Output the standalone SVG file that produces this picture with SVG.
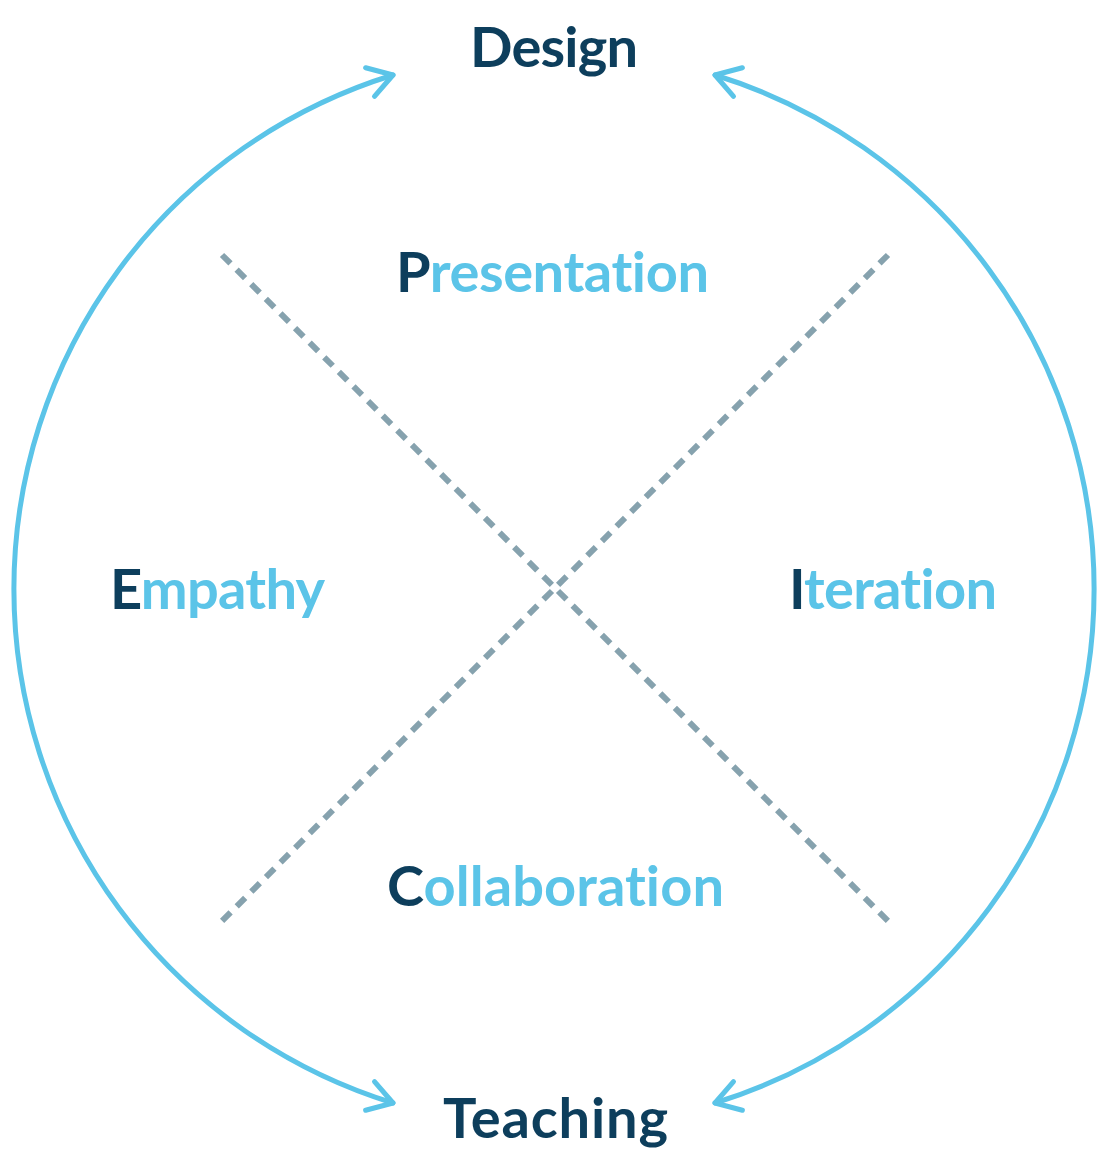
<svg xmlns="http://www.w3.org/2000/svg" width="1112" height="1156" viewBox="0 0 1112 1156">
  <defs>
    <style>
      .lbl { font-family: Lato, "Open Sans", "Liberation Sans", sans-serif; font-weight: 700; font-size: 56px; font-variant-ligatures: none; }
      .dk { fill: #0d3e5c; }
      .lt { fill: #5bc4e8; }
      .arc { fill: none; stroke: #5bc4e8; stroke-width: 5; stroke-linecap: round; }
      .dash { fill: none; stroke: #86a2ae; stroke-width: 6; stroke-dasharray: 12 8.66; }
    </style>
    <marker id="chev" markerUnits="userSpaceOnUse" markerWidth="60" markerHeight="60" refX="0" refY="0" viewBox="-30 -30 60 60" orient="auto-start-reverse" overflow="visible">
      <path d="M -24 -15 L 0 0 L -24 15" fill="none" stroke="#5bc4e8" stroke-width="5" stroke-linecap="round" stroke-linejoin="round"/>
    </marker>
  </defs>
  <rect width="1112" height="1156" fill="#ffffff"/>

  <g id="connectors">
    <path class="arc" d="M 393 75 A 538 538 0 0 0 393 1103" marker-start="url(#chev)" marker-end="url(#chev)"/>
    <path class="arc" d="M 715 75 A 538 538 0 0 1 715 1103" marker-start="url(#chev)" marker-end="url(#chev)"/>
    <line class="dash" x1="222" y1="255" x2="888" y2="921"/>
    <line class="dash" x1="888" y1="255" x2="222" y2="921"/>
  </g>

  <g id="design"><text class="lbl dk" x="470" y="67" textLength="168" lengthAdjust="spacing">Design</text></g>
  <g id="teaching"><text class="lbl dk" x="443" y="1138" textLength="225" lengthAdjust="spacing">Teaching</text></g>
  <g id="presentation"><text class="lbl" x="396" y="292" textLength="313" lengthAdjust="spacing"><tspan class="dk">P</tspan><tspan class="lt">resentation</tspan></text></g>
  <g id="empathy"><text class="lbl" x="110" y="609" textLength="215" lengthAdjust="spacing"><tspan class="dk">E</tspan><tspan class="lt">mpathy</tspan></text></g>
  <g id="iteration"><text class="lbl" x="789" y="609" textLength="208" lengthAdjust="spacing"><tspan class="dk">I</tspan><tspan class="lt">teration</tspan></text></g>
  <g id="collaboration"><text class="lbl" x="387" y="906" textLength="337" lengthAdjust="spacing"><tspan class="dk">C</tspan><tspan class="lt">ollaboration</tspan></text></g>
</svg>
